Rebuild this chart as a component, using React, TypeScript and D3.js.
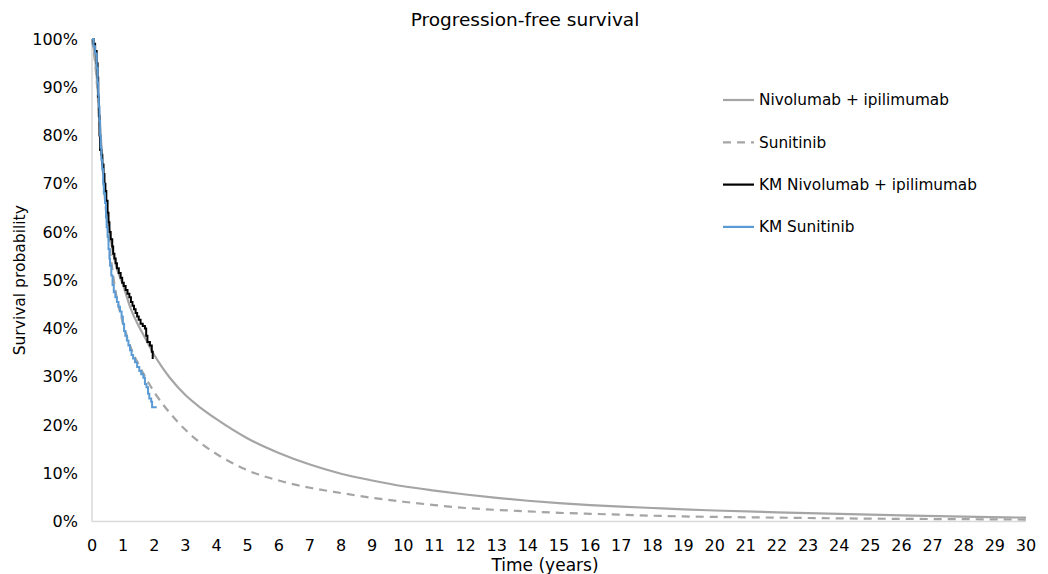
import React from "react";
import * as d3 from "d3";

// Fitted survival curves (time in years, survival proportion)
const fitTimes = [0, 0.1, 0.2, 0.3, 0.4, 0.5, 0.6, 0.75, 1, 1.25, 1.5, 1.75, 2, 2.25, 2.5, 3, 3.5, 4, 5, 6, 7, 8, 9, 10, 11, 12, 13, 14, 15, 16, 17, 18, 19, 20, 22, 24, 26, 28, 30];
const nivoIpiFit = [1, 0.96, 0.88, 0.78, 0.7, 0.635, 0.585, 0.535, 0.49, 0.44, 0.405, 0.375, 0.345, 0.32, 0.298, 0.262, 0.235, 0.212, 0.172, 0.142, 0.118, 0.099, 0.085, 0.073, 0.064, 0.056, 0.049, 0.043, 0.038, 0.034, 0.031, 0.028, 0.025, 0.0228, 0.019, 0.0158, 0.0128, 0.0102, 0.008];
const sunitinibFit = [1, 0.95, 0.87, 0.77, 0.68, 0.61, 0.55, 0.48, 0.41, 0.36, 0.325, 0.295, 0.268, 0.245, 0.225, 0.19, 0.162, 0.14, 0.106, 0.085, 0.07, 0.059, 0.049, 0.041, 0.034, 0.028, 0.024, 0.021, 0.018, 0.016, 0.014, 0.012, 0.0105, 0.0095, 0.008, 0.0065, 0.0055, 0.0048, 0.004];

// Kaplan-Meier estimates
const kmNivoIpiTimes = [0, 0.05, 0.1, 0.15, 0.18, 0.2, 0.22, 0.24, 0.26, 0.3, 0.33, 0.37, 0.4, 0.43, 0.46, 0.5, 0.53, 0.56, 0.6, 0.65, 0.68, 0.72, 0.76, 0.8, 0.86, 0.92, 0.97, 1.02, 1.08, 1.14, 1.2, 1.25, 1.3, 1.35, 1.4, 1.45, 1.5, 1.56, 1.63, 1.7, 1.74, 1.78, 1.86, 1.92, 1.95];
const kmNivoIpiSurv = [1, 0.99, 0.975, 0.95, 0.92, 0.88, 0.84, 0.8, 0.77, 0.76, 0.74, 0.72, 0.7, 0.685, 0.665, 0.64, 0.62, 0.6, 0.585, 0.57, 0.555, 0.545, 0.535, 0.525, 0.515, 0.505, 0.495, 0.488, 0.48, 0.472, 0.465, 0.455, 0.447, 0.44, 0.432, 0.425, 0.418, 0.41, 0.405, 0.4, 0.385, 0.372, 0.365, 0.352, 0.337];
const kmSunitinibTimes = [0, 0.05, 0.1, 0.15, 0.18, 0.2, 0.22, 0.24, 0.26, 0.28, 0.3, 0.33, 0.36, 0.38, 0.42, 0.45, 0.47, 0.5, 0.53, 0.56, 0.58, 0.62, 0.66, 0.7, 0.75, 0.8, 0.85, 0.9, 0.95, 0.99, 1.03, 1.07, 1.12, 1.17, 1.22, 1.27, 1.32, 1.38, 1.45, 1.52, 1.58, 1.65, 1.7, 1.75, 1.8, 1.84, 1.9, 1.93, 2.08];
const kmSunitinibSurv = [1, 0.985, 0.97, 0.94, 0.91, 0.885, 0.86, 0.83, 0.8, 0.775, 0.75, 0.73, 0.7, 0.68, 0.66, 0.63, 0.61, 0.59, 0.565, 0.545, 0.53, 0.51, 0.49, 0.475, 0.465, 0.455, 0.445, 0.435, 0.425, 0.41, 0.395, 0.385, 0.375, 0.365, 0.355, 0.345, 0.338, 0.33, 0.32, 0.312, 0.305, 0.298, 0.285, 0.278, 0.265, 0.255, 0.248, 0.237, 0.237];

const xTicks = d3.range(0, 31, 1);
const yTicks = [0, 0.1, 0.2, 0.3, 0.4, 0.5, 0.6, 0.7, 0.8, 0.9, 1];

const legendItems = [
  { label: "Nivolumab + ipilimumab", color: "#A5A5A5", dash: "" },
  { label: "Sunitinib", color: "#A5A5A5", dash: "8 6" },
  { label: "KM Nivolumab + ipilimumab", color: "#000000", dash: "" },
  { label: "KM Sunitinib", color: "#5B9BD5", dash: "" },
];

const W = 1048;
const H = 574;
const FONT = "'DejaVu Sans', Verdana, sans-serif";

export default function App() {
  const x = d3.scaleLinear().domain([0, 30]).range([92, 1026]);
  const y = d3.scaleLinear().domain([0, 1]).range([521.5, 39]);

  const smooth = d3
    .line<[number, number]>()
    .x((d) => x(d[0]))
    .y((d) => y(d[1]))
    .curve(d3.curveMonotoneX);
  const step = d3
    .line<[number, number]>()
    .x((d) => x(d[0]))
    .y((d) => y(d[1]))
    .curve(d3.curveStepAfter);

  const zip = (a: number[], b: number[]) => a.map((t, i) => [t, b[i]] as [number, number]);

  return (
    <svg width={W} height={H} style={{ position: "absolute", left: 0, top: 0, background: "#fff" }} fontFamily={FONT}>
      <text x={525} y={26} textAnchor="middle" fontSize={18.5} fill="#000">
        Progression-free survival
      </text>

      {/* axes */}
      <line x1={x(0)} x2={x(0)} y1={y(1)} y2={y(0)} stroke="#D9D9D9" strokeWidth={1.5} />
      <line x1={x(0)} x2={x(30)} y1={y(0)} y2={y(0)} stroke="#D9D9D9" strokeWidth={1.5} />

      {yTicks.map((v) => (
        <text key={v} x={78} y={y(v)} dy="0.35em" textAnchor="end" fontSize={16} fill="#000">
          {d3.format(".0%")(v)}
        </text>
      ))}
      {xTicks.map((v) => (
        <text key={v} x={x(v)} y={551} textAnchor="middle" fontSize={16} fill="#000">
          {v}
        </text>
      ))}

      <text x={545} y={571} textAnchor="middle" fontSize={17} fill="#000">
        Time (years)
      </text>
      <text transform={`translate(25,${y(0.5)}) rotate(-90)`} textAnchor="middle" fontSize={15.5} fill="#000">
        Survival probability
      </text>

      {/* fitted curves */}
      <path d={smooth(zip(fitTimes, nivoIpiFit)) || ""} fill="none" stroke="#A5A5A5" strokeWidth={2.2} />
      <path d={smooth(zip(fitTimes, sunitinibFit)) || ""} fill="none" stroke="#A5A5A5" strokeWidth={2.2} strokeDasharray="8 6" />

      {/* Kaplan-Meier curves */}
      <path d={step(zip(kmNivoIpiTimes, kmNivoIpiSurv)) || ""} fill="none" stroke="#000" strokeWidth={2} />
      <path d={step(zip(kmSunitinibTimes, kmSunitinibSurv)) || ""} fill="none" stroke="#5B9BD5" strokeWidth={2} />

      {/* legend */}
      {legendItems.map((d, i) => {
        const ly = 100 + i * 42.3;
        return (
          <g key={d.label}>
            <line x1={723} x2={754} y1={ly} y2={ly} stroke={d.color} strokeWidth={2.2} strokeDasharray={d.dash || undefined} />
            <text x={759} y={ly} dy="0.35em" fontSize={15.3} fill="#000">
              {d.label}
            </text>
          </g>
        );
      })}
    </svg>
  );
}
